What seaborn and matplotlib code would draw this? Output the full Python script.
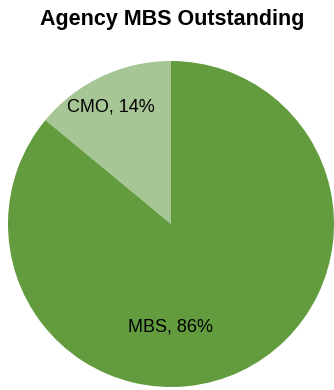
import matplotlib
matplotlib.use("Agg")
import matplotlib.pyplot as plt
import seaborn as sns

categories = ["CMO", "MBS"]
shares = [14, 86]
colors = ["#A6C795", "#629C3F"]
title = "Agency MBS Outstanding"

sns.set_theme(style="white")
plt.rcParams["font.family"] = ["Liberation Sans", "DejaVu Sans"]

fig = plt.figure(figsize=(3.34, 3.90), dpi=100)
ax = fig.add_axes([8/334, 3/390, 326/334, 326/390])
labels = [f"{c}, {v}%" for c, v in zip(categories, shares)]
wedges, texts = ax.pie(shares, labels=labels, colors=colors, startangle=90,
                       counterclock=True, labeldistance=0.75,
                       wedgeprops=dict(linewidth=0),
                       textprops=dict(fontsize=13, color="black"))
# position labels as in reference
texts[0].set_position((-0.37, 0.718))
texts[1].set_position((0.0, -0.632))
for t in texts:
    t.set_ha("center")
    t.set_va("center")
ax.set_xlim(-1, 1)
ax.set_ylim(-1, 1)
ax.set_aspect("equal")
ax.axis("off")
fig.text(0.515, 1 - 19/390, title, ha="center", va="center",
         fontsize=15.5, fontweight="bold", color="black")
fig.savefig("out.png", dpi=100)
